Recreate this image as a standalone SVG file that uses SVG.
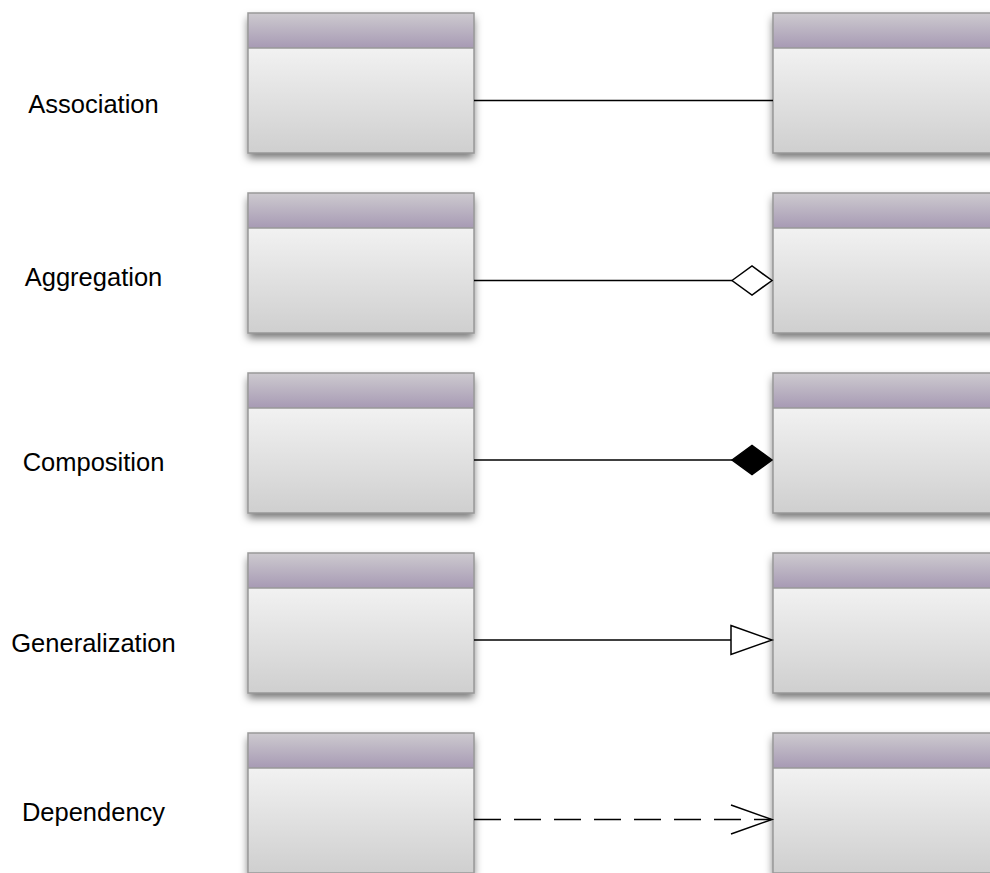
<svg xmlns="http://www.w3.org/2000/svg" width="990" height="873" viewBox="0 0 990 873">
  <style>
    .label { font-family: "Liberation Sans", Arial, sans-serif; font-size: 25.5px; fill: #000; text-anchor: middle; }
    .frame { fill: none; stroke: #999999; stroke-width: 1.5; }
    .head { fill: url(#headGrad); }
    .body { fill: url(#bodyGrad); }
    .shadowed { filter: url(#drop); }
    .link { fill: none; stroke: #000; stroke-width: 1.5; }
    .dash { stroke-dasharray: 27 13; }
  </style>
  <defs>
    <linearGradient id="headGrad" x1="0" y1="0" x2="0" y2="1">
      <stop offset="0" stop-color="#cdcacf"/>
      <stop offset="1" stop-color="#a79ab4"/>
    </linearGradient>
    <linearGradient id="bodyGrad" x1="0" y1="0" x2="0" y2="1">
      <stop offset="0" stop-color="#fdfdfd"/>
      <stop offset="1" stop-color="#cfcfcf"/>
    </linearGradient>
    <filter id="drop" x="-10%" y="-10%" width="120%" height="135%">
      <feDropShadow dx="0" dy="5" stdDeviation="4" flood-color="#000" flood-opacity="0.55"/>
    </filter>
    <!-- one class box: header band over body -->
    <g id="classBox">
      <rect class="body shadowed" x="0" y="0" width="226" height="140"/>
      <rect class="head" x="0" y="0" width="226" height="35"/>
      <line x1="0" y1="35" x2="226" y2="35" stroke="#999999" stroke-width="1.5"/>
      <rect class="frame" x="0" y="0" width="226" height="140"/>
    </g>
  </defs>

  <rect x="0" y="0" width="990" height="873" fill="#ffffff"/>

  <!-- row labels -->
  <g id="labels">
    <text class="label" x="93.5" y="112.5">Association</text>
    <text class="label" x="93.5" y="285.5">Aggregation</text>
    <text class="label" x="93.5" y="470.5">Composition</text>
    <text class="label" x="93.5" y="651.5">Generalization</text>
    <text class="label" x="93.5" y="820.5">Dependency</text>
  </g>

  <!-- class boxes -->
  <g id="assoc-source"><use href="#classBox" x="248" y="13"/></g>
  <g id="assoc-target"><use href="#classBox" x="773" y="13"/></g>
  <g id="aggr-source"><use href="#classBox" x="248" y="193"/></g>
  <g id="aggr-target"><use href="#classBox" x="773" y="193"/></g>
  <g id="comp-source"><use href="#classBox" x="248" y="373"/></g>
  <g id="comp-target"><use href="#classBox" x="773" y="373"/></g>
  <g id="gen-source"><use href="#classBox" x="248" y="553"/></g>
  <g id="gen-target"><use href="#classBox" x="773" y="553"/></g>
  <g id="dep-source"><use href="#classBox" x="248" y="733"/></g>
  <g id="dep-target"><use href="#classBox" x="773" y="733"/></g>

  <!-- relationship connectors -->
  <g id="connectors">
    <line class="link" x1="474" y1="100.5" x2="773" y2="100.5"/>

    <line class="link" x1="474" y1="280.5" x2="732" y2="280.5"/>
    <polygon points="732,280.5 752,266 772,280.5 752,295" fill="#ffffff" stroke="#000" stroke-width="1.5"/>

    <line class="link" x1="474" y1="460" x2="732" y2="460"/>
    <polygon points="732,460 752,445.5 772,460 752,474.5" fill="#000" stroke="#000" stroke-width="1.5"/>

    <line class="link" x1="474" y1="640" x2="731" y2="640"/>
    <polygon points="731,625.5 772,640 731,654.5" fill="#ffffff" stroke="#000" stroke-width="1.5"/>

    <line class="link dash" x1="474" y1="819.5" x2="771" y2="819.5"/>
    <polyline class="link" points="731,805 772,819.5 731,834"/>
  </g>
</svg>
